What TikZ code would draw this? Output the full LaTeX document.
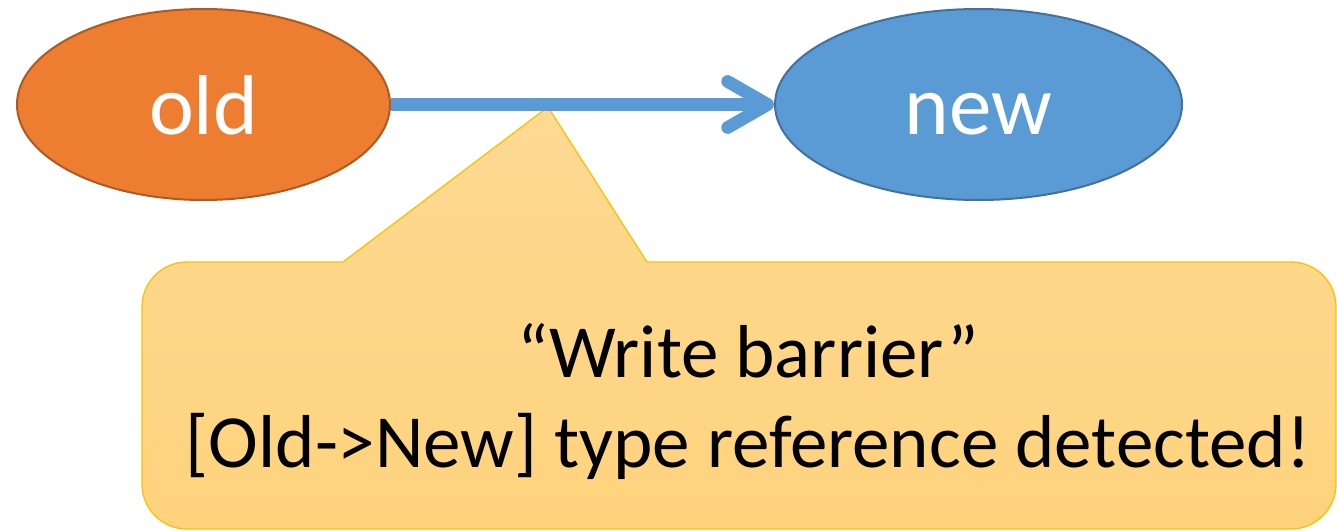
\documentclass[tikz,border=0pt]{standalone}
\usepackage{fontspec}
\setmainfont{Carlito}
\usetikzlibrary{shapes.geometric,arrows.meta}

\definecolor{oldfill}{HTML}{ED7D31}
\definecolor{oldline}{HTML}{AE5A21}
\definecolor{newfill}{HTML}{5B9BD5}
\definecolor{newline}{HTML}{41719C}
\definecolor{linkcol}{HTML}{5B9BD5}
\definecolor{notetop}{HTML}{FDD993}
\definecolor{notebot}{HTML}{FFD37D}
\definecolor{noteline}{HTML}{FFC000}

\tikzset{
  gen/.style={ellipse, inner sep=0pt, line width=2pt, text=white,
    font=\fontsize{85}{100}\selectfont, text height=59pt, text depth=0pt,
    minimum height=191pt},
  link/.style={draw=linkcol, line width=12.7pt, line cap=butt,
    -{Straight Barb[length=40pt, width=46pt, line width=12.7pt 0, round]}},
  note/.style={shade, top color=notetop, bottom color=notebot,
    draw=noteline, line width=1.3pt},
  notetext/.style={anchor=base, font=\fontsize{75}{91}\selectfont, text=black,
    inner sep=0pt}
}

\begin{document}
\begin{tikzpicture}[x=1pt, y=-1pt]
  \useasboundingbox (0,0) rectangle (1337,530);

  % callout with its pointer
  \path[note] (142,307) arc[start angle=180, end angle=270, radius=45]
    -- (343,262) -- (548,107) -- (647,262)
    -- (1291,262) arc[start angle=270, end angle=360, radius=45]
    -- (1336,484) arc[start angle=0, end angle=90, radius=45]
    -- (187,529) arc[start angle=90, end angle=180, radius=45]
    -- cycle;

  % generations
  \node[gen, fill=oldfill, draw=oldline, minimum width=373pt] (old) at (203.5,104.5) {old};
  \node[gen, fill=newfill, draw=newline, minimum width=407pt] (new) at (978.5,104.5) {new};

  % reference from old to new
  \draw[link] (old.east) -- (new.west);

  % callout text
  \node[notetext] (t1) at (748,377) {“Write barrier”};
  \node[notetext] (t2) at (748,467) {[Old->New] type reference detected!};
\end{tikzpicture}
\end{document}
